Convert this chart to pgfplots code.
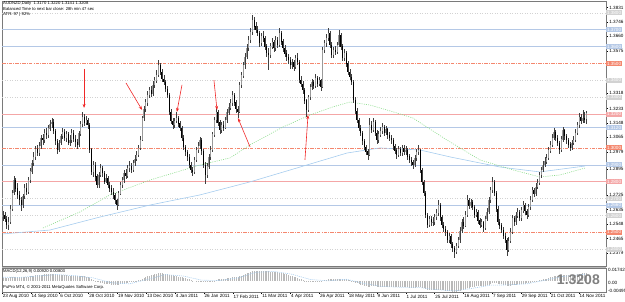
\documentclass[border=0pt]{standalone}
\usepackage{pgfplots}
\pgfplotsset{compat=1.18}
\usepackage{pgfplotstable}
\usepackage{fontspec}
\setmainfont{Liberation Sans}
\usetikzlibrary{arrows.meta}
\definecolor{hblue}{HTML}{B4C8E6}
\definecolor{hpink}{HTML}{F4A6A6}
\definecolor{hred}{HTML}{F4876E}
\definecolor{hgray}{HTML}{D2D2D2}
\definecolor{magreen}{HTML}{8CDC8C}
\definecolor{mablue}{HTML}{A6CCEE}
\definecolor{bull}{HTML}{9A9A9A}
\definecolor{frame}{HTML}{7A7A7A}
\definecolor{arr}{HTML}{F02828}

\pgfplotstableread{
i o h l c
0 1.2590 1.2625 1.2570 1.2603
1 1.2603 1.2618 1.2560 1.2580
2 1.2580 1.2596 1.2520 1.2545
3 1.2545 1.2590 1.2515 1.2562
4 1.2562 1.2660 1.2550 1.2640
5 1.2640 1.2750 1.2625 1.2735
6 1.2735 1.2835 1.2720 1.2810
7 1.2810 1.2825 1.2740 1.2760
8 1.2760 1.2790 1.2700 1.2720
9 1.2720 1.2745 1.2665 1.2690
10 1.2690 1.2710 1.2625 1.2662
11 1.2662 1.2730 1.2645 1.2715
12 1.2715 1.2785 1.2700 1.2760
13 1.2760 1.2790 1.2720 1.2740
14 1.2740 1.2830 1.2730 1.2810
15 1.2810 1.2880 1.2795 1.2860
16 1.2860 1.2930 1.2845 1.2910
17 1.2910 1.2975 1.2895 1.2947
18 1.2947 1.3010 1.2930 1.2995
19 1.2995 1.3020 1.2950 1.2970
20 1.2970 1.3035 1.2955 1.3010
21 1.3010 1.3075 1.2995 1.3060
22 1.3060 1.3085 1.3020 1.3047
23 1.3047 1.3110 1.3030 1.3090
24 1.3090 1.3120 1.3055 1.3075
25 1.3075 1.3135 1.3060 1.3115
26 1.3115 1.3165 1.3100 1.3140
27 1.3140 1.3180 1.3120 1.3154
28 1.3154 1.3170 1.3085 1.3100
29 1.3100 1.3115 1.3020 1.3040
30 1.3040 1.3055 1.2965 1.2988
31 1.2988 1.3050 1.2975 1.3030
32 1.3030 1.3085 1.3015 1.3070
33 1.3070 1.3120 1.3055 1.3095
34 1.3095 1.3110 1.3040 1.3060
35 1.3060 1.3100 1.3035 1.3080
36 1.3080 1.3095 1.3015 1.3030
37 1.3030 1.3075 1.3010 1.3047
38 1.3047 1.3110 1.3030 1.3090
39 1.3090 1.3105 1.3035 1.3055
40 1.3055 1.3075 1.3005 1.3035
41 1.3035 1.3055 1.2995 1.3018
42 1.3018 1.3100 1.3005 1.3085
43 1.3085 1.3160 1.3070 1.3140
44 1.3140 1.3215 1.3125 1.3183
45 1.3183 1.3200 1.3130 1.3150
46 1.3150 1.3190 1.3135 1.3165
47 1.3165 1.3180 1.3110 1.3136
48 1.3136 1.3145 1.2970 1.2990
49 1.2990 1.3000 1.2840 1.2858
50 1.2858 1.2925 1.2830 1.2900
51 1.2900 1.2915 1.2805 1.2830
52 1.2830 1.2845 1.2760 1.2781
53 1.2781 1.2860 1.2765 1.2840
54 1.2840 1.2905 1.2825 1.2881
55 1.2881 1.2895 1.2830 1.2850
56 1.2850 1.2865 1.2785 1.2800
57 1.2800 1.2845 1.2790 1.2820
58 1.2820 1.2835 1.2760 1.2781
59 1.2781 1.2800 1.2740 1.2760
60 1.2760 1.2780 1.2720 1.2740
61 1.2740 1.2760 1.2700 1.2722
62 1.2722 1.2735 1.2670 1.2690
63 1.2690 1.2700 1.2635 1.2662
64 1.2662 1.2745 1.2655 1.2730
65 1.2730 1.2800 1.2720 1.2780
66 1.2780 1.2830 1.2765 1.2810
67 1.2810 1.2870 1.2790 1.2850
68 1.2850 1.2875 1.2815 1.2835
69 1.2835 1.2900 1.2825 1.2881
70 1.2881 1.2920 1.2860 1.2895
71 1.2895 1.2910 1.2850 1.2870
72 1.2870 1.2930 1.2860 1.2911
73 1.2911 1.2960 1.2895 1.2935
74 1.2935 1.2980 1.2920 1.2958
75 1.2958 1.3020 1.2945 1.3000
76 1.3000 1.3070 1.2990 1.3047
77 1.3047 1.3190 1.3040 1.3177
78 1.3177 1.3250 1.3160 1.3230
79 1.3230 1.3290 1.3215 1.3270
80 1.3270 1.3335 1.3250 1.3314
81 1.3314 1.3360 1.3295 1.3340
82 1.3340 1.3365 1.3300 1.3320
83 1.3320 1.3395 1.3310 1.3373
84 1.3373 1.3420 1.3355 1.3400
85 1.3400 1.3460 1.3385 1.3432
86 1.3432 1.3520 1.3420 1.3491
87 1.3491 1.3505 1.3430 1.3450
88 1.3450 1.3465 1.3390 1.3410
89 1.3410 1.3430 1.3370 1.3391
90 1.3391 1.3405 1.3330 1.3350
91 1.3350 1.3365 1.3295 1.3314
92 1.3314 1.3325 1.3195 1.3213
93 1.3213 1.3230 1.3140 1.3160
94 1.3160 1.3175 1.3110 1.3136
95 1.3136 1.3180 1.3120 1.3160
96 1.3160 1.3210 1.3145 1.3177
97 1.3177 1.3190 1.3125 1.3145
98 1.3145 1.3160 1.3100 1.3118
99 1.3118 1.3130 1.3040 1.3060
100 1.3060 1.3075 1.2985 1.3006
101 1.3006 1.3020 1.2955 1.2975
102 1.2975 1.2990 1.2925 1.2947
103 1.2947 1.2965 1.2880 1.2900
104 1.2900 1.2915 1.2850 1.2870
105 1.2870 1.2890 1.2835 1.2858
106 1.2858 1.2945 1.2845 1.2930
107 1.2930 1.3005 1.2915 1.2988
108 1.2988 1.3035 1.2970 1.3010
109 1.3010 1.3065 1.2995 1.3047
110 1.3047 1.3060 1.2960 1.2980
111 1.2980 1.2995 1.2880 1.2900
112 1.2900 1.2915 1.2785 1.2840
113 1.2840 1.2910 1.2820 1.2890
114 1.2890 1.2965 1.2875 1.2945
115 1.2945 1.3010 1.2930 1.2988
116 1.2988 1.3095 1.2975 1.3080
117 1.3080 1.3185 1.3065 1.3166
118 1.3166 1.3237 1.3150 1.3213
119 1.3213 1.3225 1.3130 1.3150
120 1.3150 1.3165 1.3085 1.3106
121 1.3106 1.3155 1.3090 1.3135
122 1.3135 1.3160 1.3100 1.3120
123 1.3120 1.3185 1.3110 1.3166
124 1.3166 1.3230 1.3150 1.3210
125 1.3210 1.3265 1.3195 1.3240
126 1.3240 1.3290 1.3225 1.3266
127 1.3266 1.3335 1.3250 1.3314
128 1.3314 1.3325 1.3250 1.3270
129 1.3270 1.3285 1.3205 1.3230
130 1.3230 1.3250 1.3177 1.3213
131 1.3213 1.3390 1.3205 1.3373
132 1.3373 1.3450 1.3355 1.3430
133 1.3430 1.3510 1.3415 1.3491
134 1.3491 1.3565 1.3470 1.3540
135 1.3540 1.3615 1.3525 1.3592
136 1.3592 1.3660 1.3575 1.3640
137 1.3640 1.3710 1.3620 1.3687
138 1.3687 1.3787 1.3670 1.3758
139 1.3758 1.3775 1.3700 1.3720
140 1.3720 1.3745 1.3680 1.3700
141 1.3700 1.3720 1.3660 1.3681
142 1.3681 1.3695 1.3600 1.3621
143 1.3621 1.3680 1.3605 1.3660
144 1.3660 1.3690 1.3630 1.3651
145 1.3651 1.3665 1.3580 1.3600
146 1.3600 1.3615 1.3540 1.3562
147 1.3562 1.3590 1.3462 1.3550
148 1.3550 1.3620 1.3535 1.3600
149 1.3600 1.3650 1.3585 1.3627
150 1.3627 1.3640 1.3570 1.3590
151 1.3590 1.3660 1.3575 1.3640
152 1.3640 1.3655 1.3590 1.3610
153 1.3610 1.3710 1.3600 1.3681
154 1.3681 1.3695 1.3610 1.3630
155 1.3630 1.3645 1.3570 1.3592
156 1.3592 1.3610 1.3540 1.3560
157 1.3560 1.3580 1.3515 1.3540
158 1.3540 1.3555 1.3500 1.3521
159 1.3521 1.3540 1.3470 1.3490
160 1.3490 1.3525 1.3465 1.3505
161 1.3505 1.3520 1.3455 1.3479
162 1.3479 1.3550 1.3465 1.3530
163 1.3530 1.3560 1.3490 1.3509
164 1.3509 1.3520 1.3385 1.3402
165 1.3402 1.3425 1.3360 1.3380
166 1.3380 1.3395 1.3320 1.3343
167 1.3343 1.3355 1.3260 1.3280
168 1.3280 1.3290 1.3183 1.3225
169 1.3225 1.3315 1.3210 1.3300
170 1.3300 1.3380 1.3285 1.3360
171 1.3360 1.3410 1.3345 1.3391
172 1.3391 1.3405 1.3350 1.3370
173 1.3370 1.3435 1.3355 1.3414
174 1.3414 1.3425 1.3360 1.3380
175 1.3380 1.3420 1.3365 1.3400
176 1.3400 1.3410 1.3340 1.3361
177 1.3361 1.3600 1.3355 1.3580
178 1.3580 1.3640 1.3565 1.3620
179 1.3620 1.3675 1.3600 1.3650
180 1.3650 1.3710 1.3635 1.3681
181 1.3681 1.3690 1.3590 1.3610
182 1.3610 1.3625 1.3530 1.3550
183 1.3550 1.3600 1.3535 1.3580
184 1.3580 1.3605 1.3550 1.3570
185 1.3570 1.3630 1.3555 1.3610
186 1.3610 1.3700 1.3595 1.3669
187 1.3669 1.3680 1.3580 1.3600
188 1.3600 1.3615 1.3515 1.3533
189 1.3533 1.3585 1.3515 1.3562
190 1.3562 1.3575 1.3480 1.3500
191 1.3500 1.3515 1.3430 1.3450
192 1.3450 1.3465 1.3400 1.3420
193 1.3420 1.3440 1.3370 1.3391
194 1.3391 1.3400 1.3265 1.3284
195 1.3284 1.3300 1.3200 1.3220
196 1.3220 1.3235 1.3145 1.3166
197 1.3166 1.3180 1.3100 1.3120
198 1.3120 1.3135 1.3070 1.3089
199 1.3089 1.3100 1.3020 1.3040
200 1.3040 1.3055 1.2985 1.3006
201 1.3006 1.3020 1.2960 1.2980
202 1.2980 1.2995 1.2930 1.2958
203 1.2958 1.3177 1.2950 1.3136
204 1.3136 1.3160 1.3090 1.3110
205 1.3110 1.3175 1.3095 1.3154
206 1.3154 1.3165 1.3070 1.3090
207 1.3090 1.3105 1.3025 1.3047
208 1.3047 1.3100 1.3030 1.3080
209 1.3080 1.3125 1.3065 1.3100
210 1.3100 1.3145 1.3085 1.3124
211 1.3124 1.3135 1.3070 1.3090
212 1.3090 1.3130 1.3075 1.3110
213 1.3110 1.3120 1.3055 1.3077
214 1.3077 1.3095 1.3040 1.3060
215 1.3060 1.3075 1.3025 1.3047
216 1.3047 1.3060 1.2990 1.3010
217 1.3010 1.3025 1.2965 1.2985
218 1.2985 1.3000 1.2935 1.2958
219 1.2958 1.3010 1.2945 1.2990
220 1.2990 1.3005 1.2950 1.2970
221 1.2970 1.3020 1.2955 1.3000
222 1.3000 1.3015 1.2960 1.2975
223 1.2975 1.3010 1.2960 1.2988
224 1.2988 1.3000 1.2930 1.2950
225 1.2950 1.2965 1.2910 1.2929
226 1.2929 1.2945 1.2895 1.2915
227 1.2915 1.2930 1.2875 1.2899
228 1.2899 1.2960 1.2885 1.2940
229 1.2940 1.2995 1.2925 1.2975
230 1.2975 1.3020 1.2960 1.2988
231 1.2988 1.2995 1.2850 1.2870
232 1.2870 1.2880 1.2780 1.2800
233 1.2800 1.2810 1.2715 1.2733
234 1.2733 1.2745 1.2585 1.2603
235 1.2603 1.2615 1.2525 1.2544
236 1.2544 1.2600 1.2530 1.2580
237 1.2580 1.2595 1.2535 1.2560
238 1.2560 1.2590 1.2540 1.2562
239 1.2562 1.2610 1.2545 1.2590
240 1.2590 1.2640 1.2575 1.2615
241 1.2615 1.2692 1.2600 1.2662
242 1.2662 1.2675 1.2570 1.2590
243 1.2590 1.2605 1.2525 1.2544
244 1.2544 1.2560 1.2500 1.2520
245 1.2520 1.2540 1.2480 1.2503
246 1.2503 1.2515 1.2435 1.2455
247 1.2455 1.2495 1.2440 1.2475
248 1.2475 1.2490 1.2410 1.2430
249 1.2430 1.2445 1.2385 1.2408
250 1.2408 1.2420 1.2349 1.2384
251 1.2384 1.2440 1.2370 1.2420
252 1.2420 1.2475 1.2405 1.2455
253 1.2455 1.2530 1.2440 1.2510
254 1.2510 1.2580 1.2495 1.2562
255 1.2562 1.2590 1.2520 1.2540
256 1.2540 1.2625 1.2530 1.2603
257 1.2603 1.2720 1.2590 1.2692
258 1.2692 1.2705 1.2640 1.2660
259 1.2660 1.2700 1.2645 1.2680
260 1.2680 1.2690 1.2630 1.2651
261 1.2651 1.2665 1.2585 1.2603
262 1.2603 1.2640 1.2590 1.2620
263 1.2620 1.2630 1.2550 1.2570
264 1.2570 1.2585 1.2525 1.2544
265 1.2544 1.2580 1.2530 1.2560
266 1.2560 1.2570 1.2505 1.2526
267 1.2526 1.2600 1.2515 1.2580
268 1.2580 1.2645 1.2565 1.2621
269 1.2621 1.2710 1.2610 1.2690
270 1.2690 1.2770 1.2675 1.2751
271 1.2751 1.2825 1.2735 1.2799
272 1.2799 1.2810 1.2715 1.2733
273 1.2733 1.2745 1.2620 1.2640
274 1.2640 1.2655 1.2545 1.2562
275 1.2562 1.2580 1.2520 1.2540
276 1.2540 1.2555 1.2495 1.2514
277 1.2514 1.2530 1.2460 1.2480
278 1.2480 1.2495 1.2435 1.2455
279 1.2455 1.2465 1.2361 1.2396
280 1.2396 1.2470 1.2385 1.2450
281 1.2450 1.2525 1.2440 1.2503
282 1.2503 1.2605 1.2490 1.2585
283 1.2585 1.2600 1.2540 1.2560
284 1.2560 1.2620 1.2545 1.2600
285 1.2600 1.2645 1.2585 1.2621
286 1.2621 1.2635 1.2565 1.2585
287 1.2585 1.2650 1.2570 1.2630
288 1.2630 1.2685 1.2615 1.2662
289 1.2662 1.2675 1.2605 1.2625
290 1.2625 1.2640 1.2580 1.2603
291 1.2603 1.2670 1.2590 1.2650
292 1.2650 1.2715 1.2635 1.2692
293 1.2692 1.2770 1.2680 1.2751
294 1.2751 1.2765 1.2710 1.2730
295 1.2730 1.2790 1.2715 1.2770
296 1.2770 1.2815 1.2755 1.2793
297 1.2793 1.2860 1.2780 1.2840
298 1.2840 1.2890 1.2825 1.2870
299 1.2870 1.2920 1.2855 1.2899
300 1.2899 1.2945 1.2885 1.2920
301 1.2920 1.2965 1.2905 1.2941
302 1.2941 1.3005 1.2930 1.2985
303 1.2985 1.3040 1.2970 1.3018
304 1.3018 1.3080 1.3005 1.3060
305 1.3060 1.3120 1.3045 1.3095
306 1.3095 1.3105 1.3040 1.3060
307 1.3060 1.3075 1.3010 1.3029
308 1.3029 1.3040 1.2965 1.2988
309 1.2988 1.3070 1.2975 1.3050
310 1.3050 1.3125 1.3035 1.3106
311 1.3106 1.3115 1.3050 1.3070
312 1.3070 1.3085 1.3025 1.3047
313 1.3047 1.3060 1.3000 1.3020
314 1.3020 1.3035 1.2980 1.2999
315 1.2999 1.3050 1.2985 1.3030
316 1.3030 1.3070 1.3015 1.3047
317 1.3047 1.3110 1.3035 1.3090
318 1.3090 1.3155 1.3075 1.3136
319 1.3136 1.3205 1.3120 1.3183
320 1.3183 1.3200 1.3140 1.3160
321 1.3160 1.3225 1.3150 1.3177
322 1.3177 1.3215 1.3145 1.3170
323 1.3170 1.3220 1.3141 1.3208
}\candles

\pgfplotstableread{
i m
0 4.5
1 4.4
2 4.3
3 4.4
4 4.6
5 4.8
6 5.0
7 5.1
8 5.0
9 4.9
10 4.8
11 4.9
12 5.2
13 5.5
14 5.9
15 6.3
16 6.8
17 7.2
18 7.6
19 7.9
20 8.1
21 8.4
22 8.6
23 8.9
24 9.1
25 9.3
26 9.5
27 9.5
28 9.3
29 8.9
30 8.4
31 8.2
32 8.0
33 7.9
34 7.7
35 7.5
36 7.2
37 6.9
38 6.7
39 6.5
40 6.2
41 6.0
42 6.1
43 6.3
44 6.5
45 6.2
46 5.6
47 4.8
48 3.6
49 2.2
50 1.0
51 0.1
52 -1.0
53 -1.8
54 -2.5
55 -3.0
56 -3.6
57 -4.1
58 -4.5
59 -4.8
60 -5.1
61 -5.4
62 -5.6
63 -5.7
64 -5.3
65 -4.8
66 -4.2
67 -3.6
68 -3.0
69 -2.4
70 -1.8
71 -1.3
72 -0.8
73 -0.3
74 0.3
75 1.0
76 1.8
77 3.0
78 4.2
79 5.3
80 6.3
81 7.1
82 7.8
83 8.5
84 9.1
85 9.6
86 10.1
87 10.2
88 10.1
89 9.9
90 9.6
91 9.2
92 8.6
93 8.0
94 7.4
95 6.9
96 6.4
97 5.9
98 5.4
99 4.8
100 4.1
101 3.4
102 2.7
103 1.9
104 1.1
105 0.4
106 0.0
107 -0.2
108 -0.3
109 -0.3
110 -0.6
111 -1.1
112 -1.6
113 -1.7
114 -1.5
115 -1.1
116 -0.4
117 0.5
118 1.4
119 1.9
120 2.1
121 2.4
122 2.7
123 3.1
124 3.6
125 4.0
126 4.5
127 5.0
128 5.2
129 5.3
130 5.3
131 6.1
132 7.0
133 8.0
134 9.0
135 10.0
136 11.0
137 11.9
138 12.8
139 13.5
140 13.8
141 13.9
142 13.8
143 13.7
144 13.6
145 13.4
146 13.1
147 12.7
148 12.4
149 12.2
150 12.0
151 11.8
152 11.6
153 11.3
154 10.8
155 10.2
156 9.5
157 8.8
158 8.0
159 7.2
160 6.4
161 5.7
162 5.1
163 4.2
164 3.1
165 2.1
166 1.0
167 -0.1
168 -1.0
169 -1.5
170 -1.6
171 -1.7
172 -1.7
173 -1.6
174 -1.6
175 -1.7
176 -1.4
177 0.0
178 1.0
179 1.8
180 2.5
181 2.7
182 2.6
183 2.6
184 2.6
185 2.8
186 3.1
187 3.0
188 2.6
189 2.4
190 1.9
191 1.3
192 0.6
193 -0.2
194 -1.2
195 -2.2
196 -3.2
197 -4.1
198 -5.0
199 -5.8
200 -6.6
201 -7.3
202 -7.8
203 -7.6
204 -7.5
205 -7.4
206 -7.5
207 -7.7
208 -7.8
209 -7.8
210 -7.9
211 -8.0
212 -8.1
213 -8.2
214 -8.3
215 -8.4
216 -8.5
217 -8.6
218 -8.8
219 -8.9
220 -8.9
221 -8.9
222 -8.8
223 -8.8
224 -8.9
225 -9.0
226 -9.1
227 -9.2
228 -9.0
229 -8.7
230 -8.5
231 -8.8
232 -9.4
233 -10.2
234 -11.2
235 -12.0
236 -12.4
237 -12.6
238 -12.7
239 -12.6
240 -12.4
241 -12.2
242 -12.3
243 -12.6
244 -12.9
245 -13.2
246 -13.6
247 -13.9
248 -14.2
249 -14.5
250 -14.7
251 -14.6
252 -14.1
253 -13.4
254 -12.6
255 -11.9
256 -11.0
257 -9.9
258 -9.1
259 -8.4
260 -7.9
261 -7.6
262 -7.4
263 -7.4
264 -7.4
265 -7.3
266 -7.2
267 -6.8
268 -6.1
269 -5.2
270 -4.2
271 -3.2
272 -2.8
273 -3.0
274 -3.6
275 -4.2
276 -4.8
277 -5.4
278 -6.0
279 -6.7
280 -6.8
281 -6.6
282 -6.0
283 -5.6
284 -5.2
285 -4.8
286 -4.6
287 -4.2
288 -3.8
289 -3.6
290 -3.4
291 -3.0
292 -2.5
293 -1.8
294 -1.2
295 -0.6
296 0.0
297 0.6
298 1.3
299 2.0
300 2.6
301 3.2
302 3.9
303 4.6
304 5.4
305 6.1
306 6.5
307 6.7
308 6.7
309 6.9
310 7.4
311 7.6
312 7.6
313 7.5
314 7.4
315 7.5
316 7.8
317 8.2
318 8.7
319 9.4
320 9.8
321 10.1
322 10.3
323 10.7
}\macd

\newcommand\tf{\fontsize{4.2}{5}\selectfont}
\newcommand\pf{\fontsize{4.6}{5}\selectfont}
\tikzset{pbox/.style={anchor=west, inner xsep=0.8pt, inner ysep=0.4pt, text=white, font=\pf, minimum height=5pt}}

\begin{document}
\begin{tikzpicture}[x=1pt,y=1pt]
\useasboundingbox (0,0) rectangle (625,301);
\fill[gray!55] (2,33) rectangle (606,35);
\begin{axis}[
  at={(2pt,35pt)}, anchor=south west, scale only axis,
  width=604pt, height=265pt,
  xmin=-0.55, xmax=333.9, ymin=1.2301, ymax=1.3870,
  axis line style={draw=frame, line width=0.5pt},
  xtick=\empty,
  ytick={1.38314,1.3746,1.36606,1.35752,1.33260,1.32334,1.31479,1.30624,1.29770,1.28740,1.27206,1.26352,1.25498,1.24643,1.23789},
  yticklabels={1.3831,1.3746,1.3660,1.3575,1.3318,1.3233,1.3148,1.3065,1.2979,1.2895,1.2725,1.2635,1.2548,1.2465,1.2379},
  ytick pos=right, yticklabel pos=right,
  tick style={draw=black, line width=0.4pt}, major tick length=2pt, tick align=outside,
  yticklabel style={font=\pf, anchor=west, inner xsep=1.2pt},
  clip=false,
]
% user horizontal lines
\addplot[hgray, line width=0.5pt, dash pattern=on 1pt off 1.5pt, forget plot] coordinates {(-0.55,1.3800) (333.9,1.3800)};
\addplot[hblue, line width=0.6pt, forget plot] coordinates {(-0.55,1.3700) (333.9,1.3700)};
\addplot[hblue, line width=0.6pt, forget plot] coordinates {(-0.55,1.3600) (333.9,1.3600)};
\addplot[hred, line width=0.6pt, dash pattern=on 3.5pt off 1.2pt on 0.8pt off 1.2pt, forget plot] coordinates {(-0.55,1.3500) (333.9,1.3500)};
\addplot[hgray, line width=0.5pt, dash pattern=on 1pt off 1.5pt, forget plot] coordinates {(-0.55,1.3400) (333.9,1.3400)};
\addplot[hgray, line width=0.5pt, dash pattern=on 1pt off 1.5pt, forget plot] coordinates {(-0.55,1.3300) (333.9,1.3300)};
\addplot[hpink, line width=0.8pt, forget plot] coordinates {(-0.55,1.3200) (333.9,1.3200)};
\addplot[hblue, line width=0.6pt, forget plot] coordinates {(-0.55,1.3120) (333.9,1.3120)};
\addplot[hred, line width=0.6pt, dash pattern=on 3.5pt off 1.2pt on 0.8pt off 1.2pt, forget plot] coordinates {(-0.55,1.3000) (333.9,1.3000)};
\addplot[hblue, line width=0.6pt, forget plot] coordinates {(-0.55,1.2900) (333.9,1.2900)};
\addplot[hpink, line width=0.8pt, forget plot] coordinates {(-0.55,1.2800) (333.9,1.2800)};
\addplot[hgray, line width=0.5pt, dash pattern=on 1pt off 1.5pt, forget plot] coordinates {(-0.55,1.2700) (333.9,1.2700)};
\addplot[hblue, line width=0.6pt, forget plot] coordinates {(-0.55,1.2660) (333.9,1.2660)};
\addplot[hgray, line width=0.5pt, dash pattern=on 1pt off 1.5pt, forget plot] coordinates {(-0.55,1.2600) (333.9,1.2600)};
\addplot[hred, line width=0.6pt, dash pattern=on 3.5pt off 1.2pt on 0.8pt off 1.2pt, forget plot] coordinates {(-0.55,1.2500) (333.9,1.2500)};
\addplot[hgray, line width=0.5pt, dash pattern=on 1pt off 1.5pt, forget plot] coordinates {(-0.55,1.2400) (333.9,1.2400)};
% moving averages
\addplot[mablue, line width=0.6pt, forget plot] coordinates {
(0,1.2491) (26,1.2514) (53.7,1.2591) (81.4,1.2662) (109.1,1.2722) (136.8,1.2799) (164.5,1.2887) (190.5,1.2970) (208.7,1.3000) (230.9,1.2988) (247.5,1.2947) (275.2,1.2887) (297.3,1.2858) (322.3,1.2893)};
\addplot[magreen, line width=0.6pt, dash pattern=on 1pt off 1.2pt, forget plot] coordinates {
(22.1,1.2526) (42.6,1.2621) (59.2,1.2722) (81.4,1.2810) (109.1,1.2899) (125.7,1.2941) (136.8,1.3018) (155.0,1.3124) (170.0,1.3195) (182.7,1.3243) (192.1,1.3272) (203.2,1.3254) (218.2,1.3207) (227.0,1.3177) (245.8,1.3047) (264.1,1.2929) (282.4,1.2870) (297.3,1.2828) (308.4,1.2840) (322.3,1.2881)};
% candles: wicks
\addplot[draw=none, mark=none, forget plot,
  error bars/.cd, y dir=both, y explicit, error mark=none,
  error bar style={draw=black!75, solid, line width=0.4pt}]
  table[x=i, y expr={(\thisrow{h}+\thisrow{l})/2}, y error expr={(\thisrow{h}-\thisrow{l})/2}] {\candles};
% bull bodies
\addplot[draw=none, mark=none, forget plot,
  x filter/.expression={\thisrow{c}>=\thisrow{o} ? x : nan},
  error bars/.cd, y dir=both, y explicit, error mark=none,
  error bar style={draw=bull, solid, line width=1.0pt}]
  table[x=i, y expr={(\thisrow{o}+\thisrow{c})/2}, y error expr={abs(\thisrow{o}-\thisrow{c})/2+0.0001}] {\candles};
% bear bodies
\addplot[draw=none, mark=none, forget plot,
  x filter/.expression={\thisrow{c}<\thisrow{o} ? x : nan},
  error bars/.cd, y dir=both, y explicit, error mark=none,
  error bar style={draw=black, solid, line width=1.0pt}]
  table[x=i, y expr={(\thisrow{o}+\thisrow{c})/2}, y error expr={abs(\thisrow{o}-\thisrow{c})/2+0.0001}] {\candles};
% arrows
\draw[arr, line width=0.6pt, -{Stealth[length=4pt,width=3pt]}] (axis cs:44.9,1.3468) -- (axis cs:44.9,1.3237);
\draw[arr, line width=0.6pt, -{Stealth[length=4pt,width=3pt]}] (axis cs:68.1,1.3385) -- (axis cs:77.0,1.3225);
\draw[arr, line width=0.6pt, -{Stealth[length=4pt,width=3pt]}] (axis cs:99.1,1.3373) -- (axis cs:96.3,1.3213);
\draw[arr, line width=0.6pt, -{Stealth[length=4pt,width=3pt]}] (axis cs:116.8,1.3402) -- (axis cs:118.5,1.3225);
\draw[arr, line width=0.6pt, -{Stealth[length=4pt,width=3pt]}] (axis cs:136.8,1.3006) -- (axis cs:130.1,1.3177);
\draw[arr, line width=0.6pt, -{Stealth[length=4pt,width=3pt]}] (axis cs:167.2,1.2929) -- (axis cs:168.9,1.3195);
% price boxes
\node[pbox, fill=hgray] at (axis cs:333.9,1.3800) {1.3800};
\node[pbox, fill=hblue] at (axis cs:333.9,1.3700) {1.3700};
\node[pbox, fill=hblue] at (axis cs:333.9,1.3600) {1.3600};
\node[pbox, fill=hred] at (axis cs:333.9,1.3500) {1.3500};
\node[pbox, fill=hgray] at (axis cs:333.9,1.3400) {1.3400};
\node[pbox, fill=hgray] at (axis cs:333.9,1.3300) {1.3300};
\node[pbox, fill=hpink] at (axis cs:333.9,1.3200) {1.3200};
\node[pbox, fill=hblue] at (axis cs:333.9,1.3120) {1.3120};
\node[pbox, fill=hred] at (axis cs:333.9,1.3000) {1.3000};
\node[pbox, fill=hblue] at (axis cs:333.9,1.2900) {1.2900};
\node[pbox, fill=hpink] at (axis cs:333.9,1.2800) {1.2800};
\node[pbox, fill=hgray] at (axis cs:333.9,1.2700) {1.2700};
\node[pbox, fill=hblue] at (axis cs:333.9,1.2660) {1.2660};
\node[pbox, fill=hgray] at (axis cs:333.9,1.2600) {1.2600};
\node[pbox, fill=hred] at (axis cs:333.9,1.2500) {1.2500};
\node[pbox, fill=hgray] at (axis cs:333.9,1.2400) {1.2400};
\end{axis}

\begin{axis}[
  at={(2pt,9pt)}, anchor=south west, scale only axis,
  width=604pt, height=24pt,
  xmin=-0.55, xmax=333.9, ymin=-15, ymax=17.42,
  axis line style={draw=frame, line width=0.5pt},
  ytick=\empty,
  xtick={-0.55,15.42,31.39,47.36,63.33,79.30,95.27,111.24,127.21,143.18,159.15,175.12,191.09,207.06,223.03,239.00,254.97,270.94,286.91,302.88,318.85},
  xticklabels={23 Aug 2010,14 Sep 2010,6 Oct 2010,28 Oct 2010,19 Nov 2010,13 Dec 2010,4 Jan 2011,26 Jan 2011,17 Feb 2011,11 Mar 2011,4 Apr 2011,26 Apr 2011,18 May 2011,9 Jun 2011,1 Jul 2011,25 Jul 2011,16 Aug 2011,7 Sep 2011,29 Sep 2011,21 Oct 2011,14 Nov 2011},
  xtick pos=bottom, tick align=outside, major tick length=2pt,
  tick style={draw=black, line width=0.4pt},
  xticklabel style={font=\pf, anchor=north west, inner xsep=0.6pt, inner ysep=0.5pt},
  clip=true,
]
\addplot[ycomb, draw=gray!55, line width=0.5pt, mark=none] table[x=i, y=m] {\macd};
\addplot[mablue, line width=0.6pt, dash pattern=on 1pt off 1pt] coordinates {
(0,5) (10,4.8) (20,6.8) (30,8.6) (40,7) (50,4) (60,-2.5) (70,-4) (80,2) (90,8.5) (100,6.5) (110,1) (120,0.5) (130,4) (140,11.5) (150,12.8) (160,9) (170,2) (180,0) (190,2.3) (200,-3.5) (210,-7.6) (220,-8.6) (230,-8.8) (240,-11.8) (250,-13.6) (260,-10) (270,-5.8) (280,-5.4) (290,-4) (300,0.8) (310,6) (323,9.2)};
\end{axis}

% texts
\node[anchor=north west, inner sep=0pt, font=\tf] at (3,299.5) {AUDNZD,Daily\ \ 1.3170 1.3220 1.3141 1.3208};
\node[anchor=north west, inner sep=0pt, font=\tf] at (3,294) {Balanced Time to next bar close: 28h min 47 sec};
\node[anchor=north west, inner sep=0pt, font=\tf] at (3,288.5) {ATR: 97 | 92\%};
\node[anchor=north west, inner sep=0pt, font=\tf] at (3,31.5) {MACD(12,26,9) 0.00920 0.00803};
\node[anchor=north west, inner sep=0pt, font=\tf] at (3,15.5) {PuPro MT4, \textcopyright{} 2001-2011 MetaQuotes Software Corp.};
\node[anchor=east, inner sep=0pt, font=\fontsize{14}{14}\bfseries, text=gray] at (600,21.5) {1.3208};
\node[anchor=west, inner sep=0pt, font=\pf] at (608,31) {0.01742};
\node[anchor=west, inner sep=0pt, font=\pf] at (608,18) {0.00};
\node[anchor=west, inner sep=0pt, font=\pf] at (608,10) {-0.00495};
\end{tikzpicture}
\end{document}
